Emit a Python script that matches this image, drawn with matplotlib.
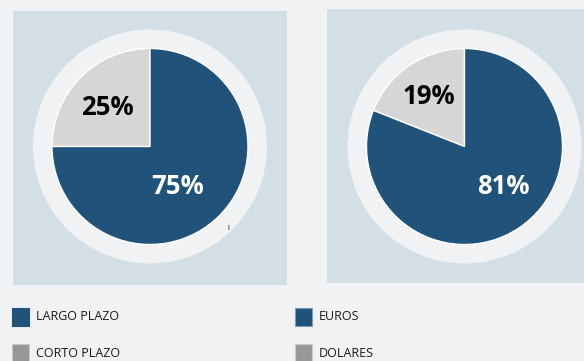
import matplotlib
matplotlib.use("Agg")
import matplotlib.pyplot as plt
from matplotlib.patches import Rectangle, Circle

plt.rcParams['font.family'] = ['Open Sans', 'DejaVu Sans']

# Debt structure by term and by currency (percent)
plazo_labels = ["LARGO PLAZO", "CORTO PLAZO"]
plazo_values = [75, 25]
moneda_labels = ["EUROS", "DOLARES"]
moneda_values = [81, 19]

BG = "#f1f2f4"
PANEL = "#d4dfe5"
RING = "#f0f2f4"
BLUE = "#21537a"
GREY = "#d6d6d6"
LEG_GREY = "#979797"

W, H = 584, 361
fig = plt.figure(figsize=(W / 100, H / 100), dpi=100)
fig.patch.set_facecolor(BG)
ax = fig.add_axes([0, 0, 1, 1])
ax.set_facecolor(BG)


def py(y):
    # pixel row (from top) to data y
    return H - y


def draw_panel(x0, x1, y0, y1, cx, cy, values, label_pos):
    ax.add_patch(Rectangle((x0, py(y1)), x1 - x0, y1 - y0, facecolor=PANEL,
                           edgecolor="none", zorder=0))
    ax.add_patch(Circle((cx, py(cy)), 117, facecolor=RING, edgecolor="none", zorder=1))
    # grey slice first, counter-clockwise from 12 o'clock
    wedges, _ = ax.pie([values[1], values[0]], colors=[GREY, BLUE], startangle=90,
                       counterclock=True, center=(cx, py(cy)), radius=98, frame=True,
                       wedgeprops=dict(edgecolor="white", linewidth=1.0))
    for w in wedges:
        w.set_zorder(2)
    (gx, gy), (bx, by) = label_pos
    ax.text(gx, py(gy), f"{values[1]}%", ha="center", va="baseline", fontsize=18.5,
            fontweight="bold", color="black", zorder=3)
    ax.text(bx, py(by), f"{values[0]}%", ha="center", va="baseline", fontsize=18.5,
            fontweight="bold", color="white", zorder=3)


draw_panel(13, 287, 11, 285, 150, 146.5, plazo_values, [(107, 115), (178, 194)])
draw_panel(327, 584, 9, 283, 464.5, 146.5, moneda_values, [(429, 104), (503, 194)])

ax.text(228, py(229), "I", ha="center", va="center", fontsize=5, color="black", zorder=3)


def legend_item(x, y, color, edge, label):
    ax.add_patch(Rectangle((x, py(y + 18)), 17, 18, facecolor=color, edgecolor=edge,
                           linewidth=0.8, zorder=2))
    ax.text(x + 24, py(y + 9.5), label, ha="left", va="center", fontsize=9,
            color="#1a1a1a", zorder=3)


legend_item(12, 307.5, BLUE, BLUE, plazo_labels[0])
legend_item(12, 344, LEG_GREY, "#c8c8c8", plazo_labels[1])
legend_item(295, 307.5, BLUE, "#7d9bb3", moneda_labels[0])
legend_item(295, 344, LEG_GREY, "#c8c8c8", moneda_labels[1])

ax.set_xlim(0, W)
ax.set_ylim(0, H)
ax.set_aspect("equal")
ax.axis("off")

fig.savefig("out.png", dpi=100, facecolor=BG)
